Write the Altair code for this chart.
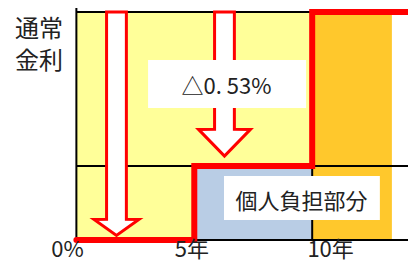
import altair as alt
import pandas as pd

# ---- data (years on x, rate level on y: 0 = 0%, 1 = 通常金利) ----
X_MIN, X_MAX = -2.9, 14.063
Y_MIN, Y_MAX = -0.1097, 1.0175

region_x0 = [0, 10, 5]
region_x1 = [10, 13.38, 10]
region_y0 = [0, 0, 0]
region_y1 = [1, 1, 0.325]
region_col = ["#FFFF99", "#FFC82C", "#B9CDE5"]

grid_x0 = [0, 0, 0, 0, 10]
grid_x1 = [0, 10, X_MAX, X_MAX, 10]
grid_y0 = [0, 1, 0.325, 0, 0]
grid_y1 = [Y_MAX, 1, 0.325, 0, 0.325]

step_x = [0, 5, 5, 10, 10, X_MAX]
step_y = [0, 0, 0.325, 0.325, 1, 1]

arrow_id = ["a1", "a2"]
arrow_c = [1.70, 6.28]
arrow_shaft = [0.42, 0.42]
arrow_head = [0.95, 1.10]
arrow_top = [1.0, 1.0]
arrow_headtop = [0.090, 0.485]
arrow_tip = [0.02, 0.368]

box_x0 = [3.04, 6.26]
box_x1 = [9.74, 12.87]
box_y0 = [0.579, 0.0877]
box_y1 = [0.789, 0.281]

side_text = ["通常", "金利"]
side_x = [-1.586, -1.586]
side_y = [0.8905, 0.750]

axis_text = ["0%", "5年", "10年"]
axis_x = [-0.377, 4.90, 10.78]
axis_y = [-0.0746, -0.0746, -0.0746]

box_text = ["△0. 53%", "個人負担部分"]
box_tx = [6.366, 9.546]
box_ty = [0.6405, 0.1338]

# ---- tables ----
regions = pd.DataFrame({"x0": region_x0, "x1": region_x1, "y0": region_y0,
                        "y1": region_y1, "col": region_col})
grid = pd.DataFrame({"x0": grid_x0, "x1": grid_x1, "y0": grid_y0, "y1": grid_y1})
step = pd.DataFrame({"x": step_x, "y": step_y, "o": list(range(len(step_x)))})
rows = []
for i, a in enumerate(arrow_id):
    c, s, h = arrow_c[i], arrow_shaft[i], arrow_head[i]
    rows += [
        {"id": a, "y": arrow_tip[i], "xl": c, "xr": c},
        {"id": a, "y": arrow_headtop[i], "xl": c - h, "xr": c + h},
        {"id": a, "y": arrow_headtop[i] + 0.0005, "xl": c - s, "xr": c + s},
        {"id": a, "y": arrow_top[i], "xl": c - s, "xr": c + s},
    ]
arrows = pd.DataFrame(rows)
boxes = pd.DataFrame({"x0": box_x0, "x1": box_x1, "y0": box_y0, "y1": box_y1})
side = pd.DataFrame({"t": side_text, "x": side_x, "y": side_y})
axl = pd.DataFrame({"t": axis_text, "x": axis_x, "y": axis_y})
btx = pd.DataFrame({"t": box_text, "x": box_tx, "y": box_ty})

xs = alt.Scale(domain=[X_MIN, X_MAX], nice=False, zero=False)
ys = alt.Scale(domain=[Y_MIN, Y_MAX], nice=False, zero=False)
X = lambda f: alt.X(f, type="quantitative", scale=xs, axis=None)
Y = lambda f: alt.Y(f, type="quantitative", scale=ys, axis=None)

rect_layer = alt.Chart(regions).mark_rect(strokeWidth=0).encode(
    x=X("x0"), x2="x1", y=Y("y0"), y2="y1", color=alt.Color("col:N", scale=None))

grid_layer = alt.Chart(grid).mark_rule(color="black", strokeWidth=2).encode(
    x=X("x0"), x2="x1", y=Y("y0"), y2="y1")

step_layer = alt.Chart(step).mark_line(color="#FF0000", strokeWidth=6,
                                       strokeCap="round", strokeJoin="miter").encode(
    x=X("x"), y=Y("y"), order="o:Q")

arrow_layer = alt.Chart(arrows).mark_area(orient="horizontal", fill="white", opacity=1,
                                          fillOpacity=1, stroke="#FF0000", strokeWidth=3,
                                          strokeJoin="miter").encode(
    y=Y("y"), x=X("xl"), x2="xr", detail="id:N")

box_layer = alt.Chart(boxes).mark_rect(color="white", strokeWidth=0).encode(
    x=X("x0"), x2="x1", y=Y("y0"), y2="y1")

font = "Noto Sans CJK JP"
side_layer = alt.Chart(side).mark_text(font=font, fontSize=24, color="#222222",
                                       align="center", baseline="alphabetic").encode(
    x=X("x"), y=Y("y"), text="t:N")
axis_layer = alt.Chart(axl).mark_text(font=font, fontSize=22, color="#222222",
                                      align="center", baseline="alphabetic").encode(
    x=X("x"), y=Y("y"), text="t:N")
btext_layer = alt.Chart(btx).mark_text(font=font, fontSize=22, color="#222222",
                                       align="center", baseline="alphabetic").encode(
    x=X("x"), y=Y("y"), text="t:N")

chart = alt.layer(rect_layer, grid_layer, step_layer, arrow_layer, box_layer,
                  side_layer, axis_layer, btext_layer).properties(
    width=400, height=257, padding=0, autosize=alt.AutoSizeParams(type="none"),
    background="white"
).configure_view(stroke=None)

chart.save("out.html", embed_options={"renderer": "svg", "actions": False})
